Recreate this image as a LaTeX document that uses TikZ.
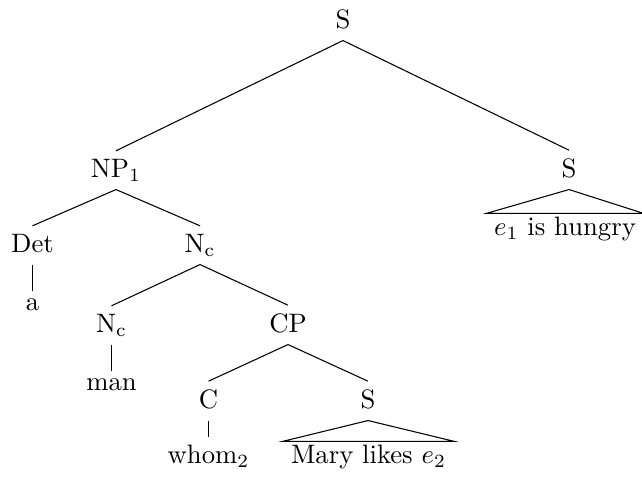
\documentclass[tikz,border=0pt]{standalone}
\usepackage{amsmath, amssymb}
\usepackage{tikz}
\usetikzlibrary{positioning}

\begin{document}
\begin{tikzpicture}[x=0.375pt,y=-0.375pt,
  cat/.style={anchor=base,inner sep=2.8pt,text depth=1.7pt},
  word/.style={anchor=base,inner sep=2.8pt},
  phrase/.style={anchor=base,inner xsep=2.6pt,inner ysep=1pt}]
\useasboundingbox (0,0) rectangle (642,477);

% Categories
\node[cat] (s) at (343,28) {S};
\node[cat] (np) at (116,177) {NP$_1$};
\node[cat] (sr) at (569,177) {S};
\node[cat] (det) at (32.5,252) {Det};
\node[cat] (nc) at (200,252) {N$_\mathrm{c}$};
\node[cat] (ncl) at (111.5,332) {N$_\mathrm{c}$};
\node[cat] (cp) at (288,332) {CP};
\node[cat] (c) at (208.5,408) {C};
\node[cat] (sl) at (368,408) {S};

% Words
\node[word] (a) at (32.5,310.7) {a};
\node[word] (man) at (111.5,390.7) {man};
\node[word] (whom) at (208.5,463) {whom$_2$};
\node[phrase,inner xsep=2.8pt] (mary) at (368.5,463) {Mary likes $e_2$};
\node[phrase] (hungry) at (565,235) {$e_1$ is hungry};

% Branches
\draw (s.south) -- (np.north);
\draw (s.south) -- (sr.north);
\draw (np.south) -- (det.north);
\draw (np.south) -- (nc.north);
\draw (det.south) -- (a.north);
\draw (nc.south) -- (ncl.north);
\draw (nc.south) -- (cp.north);
\draw (ncl.south) -- (man.north);
\draw (cp.south) -- (c.north);
\draw (cp.south) -- (sl.north);
\draw (c.south) -- (whom.north);

% Roofs
\draw (sr.south) -- (hungry.north west) -- (hungry.north east) -- cycle;
\draw (sl.south) -- (mary.north west) -- (mary.north east) -- cycle;

\end{tikzpicture}
\end{document}
